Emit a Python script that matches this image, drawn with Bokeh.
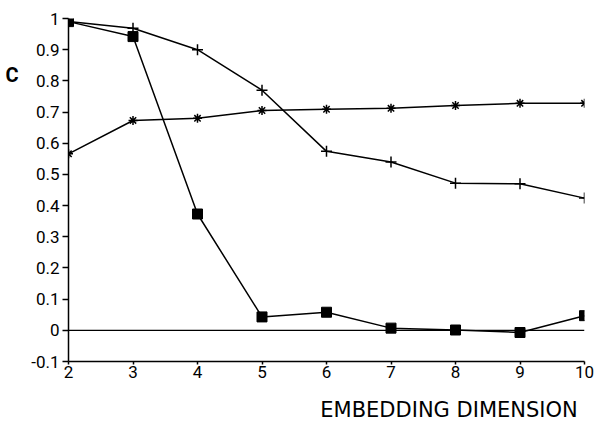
from bokeh.plotting import figure
from bokeh.models import FixedTicker, Span, Range1d, LinearAxis
from bokeh.embed import file_html
from bokeh.resources import INLINE

dims = [2, 3, 4, 5, 6, 7, 8, 9, 10]
plus_vals = [0.99, 0.969, 0.90, 0.77, 0.574, 0.54, 0.472, 0.47, 0.424]
star_vals = [0.566, 0.673, 0.68, 0.705, 0.709, 0.712, 0.721, 0.728, 0.728]
square_vals = [0.99, 0.942, 0.373, 0.043, 0.058, 0.007, 0.001, -0.007, 0.047]

y_ticks = [-0.1, 0, 0.1, 0.2, 0.3, 0.4, 0.5, 0.6, 0.7, 0.8, 0.9, 1.0]
y_tick_labels = ["-0.1", "0", "0.1", "0.2", "0.3", "0.4", "0.5", "0.6", "0.7", "0.8", "0.9", "1"]
x_ticks = dims
y_title = "C"
y_title_pos = 0.82
x_title = "EMBEDDING DIMENSION"
x_title_pos = 7.9

p = figure(width=595, height=424, output_backend="svg", toolbar_location=None,
           x_range=Range1d(2, 10), y_range=Range1d(-0.1, 1.0),
           min_border_left=68, min_border_right=11, min_border_top=18, min_border_bottom=63)
p.outline_line_color = None
p.xgrid.visible = False
p.ygrid.visible = False
p.background_fill_color = "white"

FONT = "Roboto"
p.yaxis.ticker = FixedTicker(ticks=y_ticks)
p.yaxis.major_label_overrides = {t: l for t, l in zip(y_ticks, y_tick_labels)}
p.xaxis.ticker = FixedTicker(ticks=x_ticks)
for ax in (p.xaxis, p.yaxis):
    ax.axis_line_color = "black"
    ax.axis_line_width = 1.5
    ax.major_tick_line_color = "black"
    ax.major_tick_line_width = 1.5
    ax.major_tick_in = 0
    ax.minor_tick_line_color = None
    ax.major_label_text_font = FONT
    ax.major_label_text_font_size = "17px"
    ax.major_label_text_color = "black"
p.yaxis.major_tick_out = 6
p.yaxis.major_label_standoff = 3
p.xaxis.major_tick_out = 3
p.xaxis.major_label_standoff = 1


def title_axis(axis, pos, text, size, standoff, bold, font):
    axis.ticker = FixedTicker(ticks=[pos])
    axis.major_label_overrides = {pos: text}
    axis.axis_line_color = None
    axis.major_tick_line_color = None
    axis.minor_tick_line_color = None
    axis.major_tick_out = 0
    axis.major_tick_in = 0
    axis.major_label_standoff = standoff
    axis.major_label_text_font = font
    axis.major_label_text_font_size = size
    axis.major_label_text_font_style = "bold" if bold else "normal"
    axis.major_label_text_color = "black"
    return axis


# "C" title drawn as the single label of an extra, line-less left axis
p.extra_y_ranges = {"title": Range1d(-0.1, 1.0)}
p.add_layout(title_axis(LinearAxis(y_range_name="title"), y_title_pos, y_title,
                        "20px", 10, True, FONT), "left")
# x title drawn as the single label of an extra, line-less bottom axis
p.extra_x_ranges = {"title": Range1d(2, 10)}
p.add_layout(title_axis(LinearAxis(x_range_name="title"), x_title_pos, x_title,
                        "21px", 17, False, "DejaVu Sans"), "below")

p.add_layout(Span(location=0, dimension="width", line_color="black", line_width=1.2))

p.line(dims, star_vals, line_color="black", line_width=1.5)
p.scatter(dims, star_vals, marker="asterisk", size=9, line_color="black", line_width=1.5)
p.line(dims, plus_vals, line_color="black", line_width=1.5)
p.scatter(dims, plus_vals, marker="cross", size=11, line_color="black", line_width=1.5)
p.line(dims, square_vals, line_color="black", line_width=1.5)
p.scatter(dims, square_vals, marker="square", size=10, fill_color="black", line_color="black")

open("out.html", "w").write(file_html(p, INLINE))
